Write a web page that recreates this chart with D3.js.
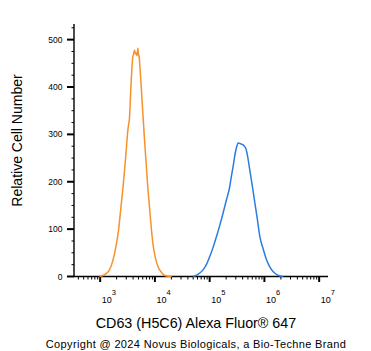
<!DOCTYPE html>
<html>
<head>
<meta charset="utf-8">
<script src="https://cdn.jsdelivr.net/npm/d3@7"></script>
<style>
  body { margin: 0; background: #fff; }
  text { font-family: "Liberation Sans", Arial, sans-serif; fill: #000; }
</style>
</head>
<body>
<div class="figure"></div>
<script>
// intensity (linear units) and cell count
var isotypeX = [970, 1250, 1480, 1700, 1940, 2180, 2400, 2600, 2790, 3000, 3200, 3320, 3440, 3570, 3700, 3830, 3960, 4100, 4250, 4400, 4560, 4720, 4880, 5000, 5130, 5370, 5700, 6020, 6450, 6920, 7400, 7960, 8550, 9180, 10200, 11350, 13500, 16200, 20200]
var isotypeY = [0, 5, 14, 33, 63, 100, 147, 185, 224, 268, 308, 322, 336, 378, 414, 445, 464, 470, 478, 470, 472, 466, 482, 470, 465, 436, 390, 345, 290, 239, 190, 147, 105, 70, 40, 21, 7, 1, 0]

var cd63X = [49700, 62000, 75700, 88000, 100400, 116000, 133000, 153000, 176000, 203000, 233000, 250000, 268000, 285000, 301000, 316000, 331000, 350000, 371000, 390000, 409000, 432000, 458000, 500000, 542000, 603000, 670000, 745000, 826000, 950000, 1096000, 1260000, 1449000, 1750000, 2210000]
var cd63Y = [0, 5, 14, 26, 42, 62, 84, 108, 134, 162, 190, 212, 232, 252, 267, 276, 282, 281, 280, 279, 278, 275, 270, 250, 224, 190, 155, 120, 84, 58, 35, 20, 10, 3, 0]

var yMajor = [0, 100, 200, 300, 400, 500]
var xMajorExp = [3, 4, 5, 6, 7]

var dim = { w: 371, h: 351 }

var svg = d3.select("div.figure")
    .append("svg")
    .attr("width", dim.w)
    .attr("height", dim.h)

var xScale = d3.scaleLog()
    .domain([340, 14500000])
    .range([74.5, 328])

var yScale = d3.scaleLinear()
    .domain([0, 533])
    .range([276.5, 24])

// y axis
var yMinor = d3.range(0, 526, 25).filter(function(v) { return v % 100 !== 0 })

svg.append("line")
    .attr("x1", 74).attr("x2", 74)
    .attr("y1", yScale(533)).attr("y2", yScale(0) + 0.5)
    .attr("stroke", "#000").attr("stroke-width", 1.4)

svg.append("g").selectAll("line")
    .data(yMinor).enter()
    .append("line")
    .attr("x1", 71.5).attr("x2", 74)
    .attr("y1", function(d) { return yScale(d) })
    .attr("y2", function(d) { return yScale(d) })
    .attr("stroke", "#000").attr("stroke-width", 1)

svg.append("g").selectAll("line")
    .data(yMajor).enter()
    .append("line")
    .attr("x1", 67).attr("x2", 74)
    .attr("y1", function(d) { return yScale(d) })
    .attr("y2", function(d) { return yScale(d) })
    .attr("stroke", "#000").attr("stroke-width", 2)

svg.append("g").selectAll("text")
    .data(yMajor).enter()
    .append("text")
    .attr("x", 62.5)
    .attr("y", function(d) { return yScale(d) + 3 })
    .attr("text-anchor", "end")
    .style("font-size", "8.5px")
    .text(function(d) { return d })

// x axis
svg.append("line")
    .attr("x1", 73.3).attr("x2", xScale(14500000))
    .attr("y1", 276.5).attr("y2", 276.5)
    .attr("stroke", "#000").attr("stroke-width", 1.4)

var xMinor = []
;[2, 3, 4, 5, 6].forEach(function(e) {
    d3.range(2, 10).forEach(function(m) {
        var v = m * Math.pow(10, e)
        if (v > 340 && v < 14500000) xMinor.push(v)
    })
})

svg.append("g").selectAll("line")
    .data(xMinor).enter()
    .append("line")
    .attr("x1", function(d) { return xScale(d) })
    .attr("x2", function(d) { return xScale(d) })
    .attr("y1", 276.5).attr("y2", 279.5)
    .attr("stroke", "#000").attr("stroke-width", 1)

svg.append("g").selectAll("line")
    .data(xMajorExp).enter()
    .append("line")
    .attr("x1", function(d) { return xScale(Math.pow(10, d)) })
    .attr("x2", function(d) { return xScale(Math.pow(10, d)) })
    .attr("y1", 276.5).attr("y2", 282)
    .attr("stroke", "#000").attr("stroke-width", 2)

var xLabels = svg.append("g").selectAll("text")
    .data(xMajorExp).enter()
    .append("text")
    .attr("x", function(d) { return xScale(Math.pow(10, d)) + 1.5 })
    .attr("y", 302.5)
    .style("font-size", "9px")
xLabels.append("tspan").text("10")
xLabels.append("tspan")
    .attr("dy", -7.5)
    .style("font-size", "7.5px")
    .text(function(d) { return d })

// histograms
var line = d3.line()
    .x(function(d) { return xScale(d[0]) })
    .y(function(d) { return yScale(d[1]) })
    .curve(d3.curveMonotoneX)

svg.append("path")
    .datum(d3.zip(isotypeX, isotypeY))
    .attr("d", line)
    .attr("fill", "none")
    .attr("stroke", "#f5922a")
    .attr("stroke-width", 1.5)

svg.append("path")
    .datum(d3.zip(cd63X, cd63Y))
    .attr("d", line)
    .attr("fill", "none")
    .attr("stroke", "#2a7de0")
    .attr("stroke-width", 1.5)

// titles
svg.append("text")
    .attr("transform", "translate(22,140.5) rotate(-90)")
    .attr("text-anchor", "middle")
    .style("font-size", "14px")
    .text("Relative Cell Number")

svg.append("text")
    .attr("x", 196)
    .attr("y", 328)
    .attr("text-anchor", "middle")
    .style("font-size", "14.3px")
    .text("CD63 (H5C6) Alexa Fluor\u00ae 647")

svg.append("text")
    .attr("x", 196)
    .attr("y", 348)
    .attr("text-anchor", "middle")
    .style("font-size", "11px")
    .style("letter-spacing", "0.35px")
    .text("Copyright @ 2024 Novus Biologicals, a Bio-Techne Brand")
</script>
</body>
</html>
